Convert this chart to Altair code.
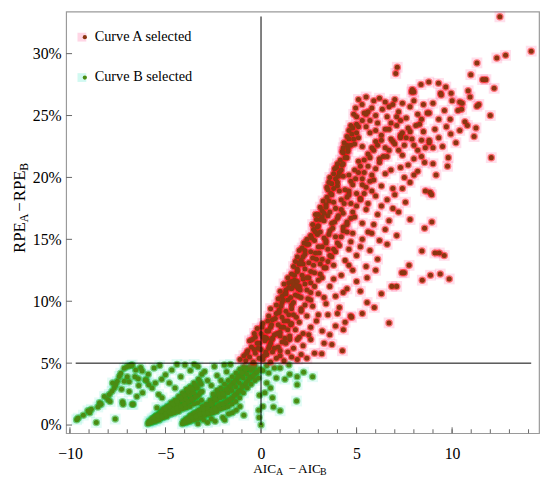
import altair as alt
import pandas as pd

SERIF = "Liberation Serif"

# ---- Curve A selected (x = AIC_A - AIC_B, y = RPE_A - RPE_B in %) ----
A_ORIGIN = [(-1.1,5.3),(-0.9,5.6),(-0.8,5.2),(-0.7,6.0),(-0.6,5.5),(-0.5,6.3),(-0.4,5.1),(-0.3,5.8),(-0.2,6.6),(-0.1,5.4),
            (0.0,6.1),(0.1,5.3),(0.2,6.8),(0.3,5.7),(0.4,6.2),(0.5,5.1),(0.6,5.9),(0.8,5.4),(1.0,5.6),(1.2,5.2),
            (1.4,5.9),(1.6,5.5),(1.9,5.3),(2.1,5.7),(2.4,5.4),(2.8,5.8),(3.18,5.76),(3.71,6.5),(4.26,6.0),
            (-0.6,6.8),(-0.3,7.1),(0.0,7.4),(0.3,7.0),(-0.2,7.8),(0.5,6.6),(0.9,6.3),(1.3,6.6),(1.7,6.2),(2.2,6.4),
            (2.6,6.9),(3.3,6.6),(-0.45,6.9),(-0.15,6.2),(0.15,5.6),(-0.75,5.8),(0.05,7.9),(-0.35,7.4)]
A_LOW = [(0.1,8.2),(0.3,7.6),(0.4,8.8),(0.5,7.9),(0.6,8.5),(0.7,7.3),(0.8,9.0),(0.9,8.1),(1.0,7.5),(1.1,8.7),
         (1.2,7.9),(1.3,9.2),(1.4,8.4),(1.5,7.2),(1.7,8.9),(1.8,7.7),(2.0,8.3),(2.2,7.4),(2.4,8.8),(2.6,7.9),
         (2.9,8.4),(3.2,7.6),(3.5,8.9),(3.9,8.0),(4.31,7.7),(4.69,8.8),(4.74,8.7),(5.3,9.0),(6.7,8.25),(0.5,9.4),
         (0.8,9.7),(1.1,9.9),(1.6,9.7),(2.1,9.4),(2.7,9.6),(3.4,9.8),(4.1,9.5),(0.2,7.1),(0.6,7.0),(1.25,7.0),
         (1.9,6.9),(0.35,8.4),(0.95,9.3),(1.55,8.1)]
A_MID1 = [(0.9,10.2),(1.0,10.8),(1.2,11.4),(1.1,10.4),(1.4,11.9),(1.3,10.9),(1.45,11.5),(1.4,10.1),(1.6,12.2),(1.6,11.0),
          (1.75,11.7),(1.8,10.5),(1.82,11.5),(1.9,12.4),(2.0,11.2),(2.1,10.3),(2.2,11.8),(2.3,12.6),(2.4,10.9),(2.6,11.5),
          (2.8,12.3),(3.0,10.6),(3.2,11.9),(3.4,12.7),(3.6,11.2),(3.9,10.4),(4.2,12.1),(4.5,11.0),(4.8,12.5),(5.2,10.8),
          (5.55,9.9),(5.55,11.9),(5.93,9.5),(6.3,10.6),(6.84,11.2),(7.1,11.2),(7.37,12.3),(7.5,12.3),(8.44,11.7),(8.87,12.1),
          (9.38,12.2),(9.85,11.8),(1.7,12.8),(2.0,13.0),(1.25,10.6),(1.55,10.3),(1.95,11.0),(2.15,12.1),(2.5,11.9),(1.7,11.3)]
A_MID2 = [(1.8,13.2),(2.0,14.1),(1.9,13.6),(2.25,14.7),(2.1,13.3),(2.15,14.3),(2.4,15.0),(2.3,13.8),(2.4,14.6),(2.5,13.1),
          (2.6,15.3),(2.6,14.0),(2.7,13.5),(2.8,14.9),(2.85,13.9),(2.95,15.4),(3.0,14.4),(3.2,13.4),(3.3,15.1),(3.5,14.2),
          (3.7,13.6),(3.9,15.2),(4.1,14.5),(4.4,13.3),(4.7,14.8),(5.0,13.7),(5.3,15.0),(5.7,14.1),(6.1,13.4),(6.6,14.6),
          (7.1,15.3),(7.75,12.9),(8.42,14.06),(9.1,13.9),(9.33,13.9),(9.59,13.7),(5.5,12.8),(6.0,12.5),(3.8,12.9),(2.75,15.8),
          (3.1,15.6),(3.6,15.7),(4.5,15.6),(2.2,13.0),(3.4,14.7)]
A_MID3 = [(2.7,16.2),(2.85,17.0),(2.9,16.6),(3.1,17.6),(2.95,16.0),(3.2,17.3),(3.25,18.1),(3.3,16.5),(3.4,17.8),(3.5,16.9),
          (3.45,18.4),(3.6,17.2),(3.7,16.3),(3.8,18.0),(3.9,17.5),(4.0,16.7),(4.2,18.2),(4.3,17.1),(4.5,16.4),(4.7,17.9),
          (4.9,16.8),(5.2,18.3),(5.5,17.4),(5.9,16.2),(6.3,17.7),(6.9,17.5),(7.56,18.0),(8.56,15.9),(8.94,16.4),(7.8,16.6),
          (6.5,15.8),(5.8,15.5),(3.2,16.8),(3.65,18.7),(4.1,18.9),(3.0,17.0)]
A_HIGH1 = [(3.45,19.2),(3.6,20.0),(3.55,19.6),(3.85,20.7),(3.5,19.0),(3.8,20.3),(4.0,21.1),(3.7,19.5),(3.95,20.8),(3.9,19.9),
           (4.15,21.4),(4.1,20.4),(4.0,19.3),(4.25,21.0),(4.3,20.1),(4.5,21.6),(4.7,19.7),(4.9,20.6),(5.1,21.3),(5.3,19.4),
           (5.6,20.9),(5.9,19.8),(6.2,21.5),(6.5,20.3),(6.9,19.1),(7.3,20.8),(7.8,19.6),(8.2,20.5),(8.6,18.9),(8.93,18.6),
           (8.85,18.8),(9.16,20.2),(9.76,20.9),(5.0,18.7),(6.0,18.5),(7.0,18.6),(4.4,19.0),(4.6,20.2),(5.4,20.4),(8.56,21.2),
           (8.0,20.2),(7.5,20.0)]
A_HIGH2 = [(4.25,22.1),(4.35,22.8),(4.3,22.4),(4.5,23.3),(4.3,22.0),(4.6,23.8),(4.5,22.6),(4.7,24.2),(4.6,23.1),(4.55,22.3),
           (4.8,24.0),(4.75,23.5),(4.9,22.7),(5.0,24.3),(5.1,23.2),(5.3,22.5),(5.5,24.1),(5.7,23.6),(5.9,22.2),(6.1,24.4),
           (6.3,23.0),(6.5,22.4),(6.7,23.9),(6.9,22.9),(7.1,24.2),(7.3,23.4),(7.5,22.6),(7.7,24.0),(7.9,23.1),(8.2,22.2),
           (8.5,23.7),(8.8,22.8),(9.1,23.9),(9.5,22.5),(9.93,23.5),(10.4,23.8),(11.15,23.3),(11.25,24.0),(12.05,21.6),(7.4,21.8),
           (8.0,21.5),(6.6,21.7),(7.4,23.6),(8.8,23.0),(8.6,22.4),(7.6,23.2)]
A_TOP = [(4.85,25.1),(4.95,25.6),(5.1,26.3),(5.0,24.9),(5.29,25.9),(5.4,25.2),(5.5,26.5),(5.8,25.6),(5.9,26.2),(6.0,25.0),
         (6.2,26.4),(6.35,25.5),(6.5,26.1),(6.6,24.9),(6.7,25.7),(7.0,26.3),(7.2,25.3),(7.4,26.0),(7.6,24.8),(7.8,25.7),
         (8.0,26.2),(8.2,25.1),(8.5,25.9),(8.8,25.2),(9.0,26.0),(9.3,24.7),(9.6,25.4),(10.0,26.2),(10.3,25.4),(10.5,25.5),
         (10.67,24.5),(11.3,25.75),(11.4,25.9),(12.0,25.0),(10.4,26.1),(10.53,26.0),(10.84,27.0),(10.94,26.5),(9.4,26.8),(9.43,26.65),
         (9.95,26.8),(7.92,27.1),(8.0,26.9),(7.88,26.9),(8.37,27.5),(8.78,27.7),(9.29,27.6),(9.67,27.3),(5.6,25.3),(6.9,25.9)]
A_CORE = [(-0.35,6.1),(0.25,5.9),(0.7,6.2),(-0.1,6.6),(0.45,6.4),(1.1,6.7),(0.1,7.1),(0.55,6.9),(1.0,7.2),
          (0.4,7.6),(0.85,7.4),(1.4,7.7),(0.55,8.1),(1.05,7.9),(1.6,8.2),(0.75,8.6),(1.2,8.4),(1.85,8.7),
          (0.95,9.1),(1.45,8.9),(2.1,9.2),(1.05,9.6),(1.6,9.4),(2.3,9.7),(1.15,10.1),(1.7,9.9),(2.45,10.2),
          (1.3,10.6),(1.95,10.4),(2.6,10.7),(1.45,11.1),(2.05,10.9),(2.8,11.2),(1.6,11.6),(2.3,11.4),(3.0,11.7),
          (1.75,12.1),(2.4,11.9),(3.1,12.2),(1.9,12.6),(2.6,12.4),(3.3,12.7),(2.05,13.1),(2.75,12.9),(3.5,13.2),
          (2.2,13.6),(2.9,13.4),(3.6,13.7),(2.3,14.1),(3.05,13.9),(3.8,14.2),(2.5,14.6),(3.2,14.4),(4.0,14.7),
          (2.65,15.1),(3.4,14.9),(4.2,15.2),(2.85,15.6),(3.55,15.4),(4.3,15.7),(3.0,16.1),(3.75,15.9),(4.5,16.2),
          (3.1,16.6),(3.85,16.4),(4.7,16.7),(3.3,17.1),(4.05,16.9),(4.8,17.2),(3.4,17.6),(4.2,17.4),(5.0,17.7),
          (3.55,18.1),(4.35,17.9),(5.2,18.2),(3.7,18.6),(4.5,18.4),(5.4,18.7),(3.8,19.1),(4.6,18.9),(5.5,19.2),
          (4.0,19.6),(4.8,19.4),(5.7,19.7),(4.05,20.1),(4.95,19.9),(5.8,20.2),(4.2,20.6),(5.1,20.4),(6.0,20.7),
          (4.3,21.1),(5.2,20.9),(6.2,21.2),(4.4,21.6),(5.4,21.4),(6.4,21.7),(4.55,22.1),(5.6,21.9),(6.7,22.2),
          (4.7,22.6),(5.8,22.4),(7.0,22.7),(4.85,23.1),(6.0,22.9),(7.3,23.2),(5.0,23.6),(6.3,23.4),(7.8,23.7),
          (5.1,24.1),(6.5,23.9),(8.1,24.2),(5.3,24.6),(6.8,24.4),(8.4,24.7),(5.5,25.1),(7.1,24.9),(8.7,25.2),
          (1.75,11.4),(1.9,11.6),(1.85,11.2)]
A_EXTRA = [(1.0,6.0),(1.5,6.9),(2.0,7.1),(2.5,7.3),(3.0,8.9),(3.6,7.3),(4.0,9.0),(4.4,8.3),(2.6,10.1),(3.3,10.3),
           (3.8,11.8),(4.3,10.7),(5.0,11.6),(4.6,12.9),(3.1,13.0),(3.9,14.0),(4.6,14.2),(5.2,14.4),(5.6,15.6),(6.2,14.9),
           (4.3,16.0),(4.8,15.5),(5.3,16.3),(5.6,17.9),(6.1,17.0),(6.7,16.5),(7.2,17.2),(4.6,18.6),(5.3,19.9),(5.8,18.9),
           (6.3,19.3),(6.6,18.2),(7.4,19.1),(6.8,20.6),(7.7,21.0),(5.7,21.6),(6.1,22.6),(6.8,23.1),(7.2,22.2),(8.0,22.6),
           (8.4,23.0),(9.0,22.4),(9.3,23.2),(9.7,24.1),(8.3,24.3),(7.3,24.6),(6.0,23.8),(5.7,24.6),(9.9,24.7),(10.8,24.2),
           (10.2,22.8),(9.8,21.6),(8.4,21.7),(9.0,21.1)]
A_OUTLIERS = [(12.2,27.2),(11.6,27.9),(11.77,27.9),(10.98,28.3),(11.3,29.25),(12.34,29.65),(12.8,29.86),(14.14,30.2),
              (12.5,32.97),(7.13,28.9),(7.05,28.4)]

# ---- Curve B selected ----
B_LEFT = [(-9.65,0.43),(-9.57,0.56),(-9.3,0.8),(-9.06,1.15),(-8.97,1.0),(-8.88,1.27),(-8.62,0.2),(-8.54,1.46),(-8.45,1.8),
          (-8.37,1.67),(-8.02,2.07),(-7.94,2.47),(-7.8,2.73),(-7.77,3.4),(-7.68,3.0),(-7.6,3.26),(-7.52,3.53),(-7.42,3.93),
          (-7.34,4.19),(-7.16,4.59),(-6.99,4.72),(-6.82,4.8),(-6.74,4.85),(-6.56,4.45),(-6.3,4.64),(-6.22,4.37),(-7.63,0.48),
          (-7.25,1.89),(-7.22,1.67),(-6.74,1.67),(-6.69,1.67),(-8.2,2.3),(-7.9,1.9),(-7.0,3.9),(-6.9,3.5),(-6.6,3.9),
          (-6.4,3.2),(-6.2,2.6),(-6.0,3.6),(-5.9,4.1),(-6.9,2.7),(-7.3,2.9),(-6.5,2.3),(-7.16,3.53)]
B_WEDGE1 = [(-5.92,0.1),(-5.86,0.3),(-5.74,0.2),(-5.68,0.4),(-5.71,0.5),(-5.53,0.3),(-5.47,0.5),(-5.52,0.7),(-5.46,0.8),
            (-5.33,0.4),(-5.27,0.6),(-5.31,0.9),(-5.26,1.0),(-5.12,0.6),(-5.08,0.8),(-5.13,1.0),(-5.07,1.2),(-5.11,1.3),
            (-4.93,0.7),(-4.87,1.0),(-4.92,1.2),(-4.88,1.4),(-4.91,1.5),(-4.72,0.9),(-4.68,1.1),(-4.73,1.4),(-4.67,1.6),
            (-4.71,1.8),(-4.53,1.0),(-4.48,1.3),(-4.52,1.5),(-4.47,1.8),(-4.51,2.0),(-4.32,1.1),(-4.28,1.4),(-4.33,1.7),
            (-4.27,2.0),(-4.31,2.3),(-4.12,1.3),(-4.08,1.6),(-4.13,2.0),(-4.07,2.3),(-4.11,2.6),(-3.92,1.4),(-3.88,1.8),
            (-3.93,2.1),(-3.87,2.5),(-3.91,2.9),(-3.72,1.5),(-3.68,2.0),(-3.73,2.4),(-3.67,2.8),(-3.71,3.1),(-3.52,1.7),
            (-3.48,2.2),(-3.53,2.6),(-3.47,3.0),(-3.51,3.4),(-3.32,1.8),(-3.28,2.4),(-3.33,3.0),(-3.27,3.7),(-3.12,2.0),
            (-3.08,2.7),(-3.13,3.3),
            (-5.8,0.25),(-5.6,0.35),(-5.6,0.6),(-5.4,0.5),(-5.4,0.75),(-5.2,0.7),(-5.2,1.1),(-5.0,0.9),(-5.0,1.3),
            (-4.8,1.05),(-4.8,1.5),(-4.6,1.2),(-4.6,1.7),(-4.4,1.35),(-4.4,1.9),(-4.2,1.5),(-4.2,2.2),(-4.0,1.7),
            (-4.0,2.4),(-3.8,1.9),(-3.8,2.7),(-3.6,2.1),(-3.6,2.9),(-3.4,2.3),(-3.4,3.2),(-3.2,2.6),(-3.2,3.5)]
B_WEDGE2 = [(-4.12,0.1),(-4.06,0.3),(-3.92,0.2),(-3.88,0.4),(-3.91,0.5),(-3.72,0.3),(-3.68,0.5),(-3.73,0.7),(-3.67,0.8),
            (-3.52,0.4),(-3.48,0.6),(-3.53,0.9),(-3.47,1.0),(-3.32,0.5),(-3.28,0.8),(-3.33,1.0),(-3.27,1.2),(-3.12,0.6),
            (-3.08,0.9),(-3.13,1.2),(-3.07,1.5),(-2.92,0.8),(-2.88,1.1),(-2.93,1.4),(-2.87,1.7),(-2.72,0.9),(-2.68,1.2),
            (-2.73,1.6),(-2.67,2.0),(-2.52,1.0),(-2.48,1.4),(-2.53,1.8),(-2.47,2.2),(-2.51,2.5),(-2.32,1.1),(-2.28,1.5),
            (-2.33,2.0),(-2.27,2.4),(-2.31,2.8),(-2.12,1.3),(-2.08,1.7),(-2.13,2.2),(-2.07,2.6),(-2.11,3.0),(-1.92,1.4),
            (-1.88,1.8),(-1.93,2.3),(-1.87,2.8),(-1.91,3.3),(-1.72,1.5),(-1.68,2.0),(-1.73,2.6),(-1.67,3.1),(-1.71,3.6),
            (-1.52,1.7),(-1.48,2.2),(-1.53,2.8),(-1.47,3.4),(-1.51,3.9),(-1.32,1.9),(-1.28,2.5),(-1.33,3.1),(-1.27,3.7),
            (-1.31,4.2),(-1.12,2.2),(-1.08,2.8),(-1.13,3.4),(-1.07,4.0),(-1.11,4.5),(-0.92,2.6),(-0.88,3.2),(-0.93,3.8),
            (-0.87,4.3),(-0.91,4.7),(-0.72,3.0),(-0.68,3.6),(-0.73,4.1),(-0.67,4.6),(-0.52,3.3),(-0.48,3.9),(-0.53,4.4),
            (-0.47,4.9),(-0.32,3.6),(-0.28,4.2),(-0.33,4.8),(-0.12,1.2),(-0.08,2.4),(-0.13,3.8),(-0.07,4.5),
            (-4.0,0.25),(-3.8,0.35),(-3.6,0.6),(-3.4,0.7),(-3.2,0.9),(-3.0,1.0),(-3.0,1.3),(-2.8,1.3),(-2.8,1.0),
            (-2.6,1.2),(-2.6,1.7),(-2.4,1.3),(-2.4,2.1),(-2.2,1.6),(-2.2,2.5),(-2.0,1.7),(-2.0,2.5),(-1.8,1.9),
            (-1.8,2.9),(-1.6,2.1),(-1.6,3.2),(-1.4,2.4),(-1.4,3.5),(-1.2,2.7),(-1.2,3.9),(-1.0,3.1),(-1.0,4.2),
            (-0.8,3.4),(-0.8,4.5),(-0.6,3.8),(-0.6,4.6),(-0.4,4.0),(-0.4,4.6),(-0.2,4.3)]
B_SPARSE = [(-5.6,4.6),(-5.3,4.8),(-5.0,4.06),(-4.67,4.45),(-4.4,4.9),(-4.2,3.9),(-3.98,4.85),(-3.7,4.4),(-3.5,4.9),
            (-3.3,4.72),(-3.1,4.1),(-2.95,4.33),(-2.8,3.6),(-2.6,3.2),(-2.44,4.72),(-2.3,4.0),(-2.1,3.6),(-1.92,4.85),
            (-1.8,4.3),(-1.6,4.9),(-5.36,2.47),(-5.18,2.2),(-5.45,1.4),(-5.88,3.26),(-5.7,3.0),(-5.53,3.4),(-6.05,3.66),
            (-6.42,3.74),(-4.8,3.4),(-4.5,3.0),(-5.2,3.7),(-3.0,0.4),(-2.8,0.2),(-2.6,0.5),(-2.0,0.6),(-1.9,0.4),
            (-1.7,0.9),(-1.5,1.0),(-1.3,1.2),(-1.1,1.5),(-0.9,0.8),(-2.4,0.3),(-3.3,0.1)]
B_RIGHT = [(0.0,0.0),(0.1,1.5),(0.2,2.6),(0.3,3.4),(0.4,4.2),(0.5,3.0),(0.65,1.46),(0.7,4.6),(0.8,3.8),(1.0,4.6),
           (1.0,1.15),(1.25,3.7),(1.46,4.85),(1.5,4.1),(1.86,1.94),(1.89,3.9),(1.89,3.26),(2.23,4.27),(2.7,3.9),
           (0.3,4.8),(0.1,4.4),(0.6,2.2),(-0.1,0.6)]

X_MAJOR = [-10, -5, 0, 5, 10]
X_MINOR = [-10, -9, -8, -7, -6, -5, -4, -3, -2, -1, 0, 1, 2, 3, 4, 5, 6, 7, 8, 9, 10, 11, 12, 13, 14]
Y_MAJOR = [0, 5, 10, 15, 20, 25, 30]
X_DOMAIN = [-10.2, 14.55]
Y_DOMAIN = [-0.66, 33.4]
VLINE = {"x": [0.0], "y": [0.0], "y2": [33.0]}
HLINE = {"x": [-9.7], "x2": [14.14], "y": [5.0]}
LEGEND_A = "Curve A selected"
LEGEND_B = "Curve B selected"

W, H = 480, 428

a_df = pd.DataFrame(A_ORIGIN + A_LOW + A_MID1 + A_MID2 + A_MID3 + A_HIGH1 + A_HIGH2 + A_TOP + A_CORE + A_EXTRA
                    + A_OUTLIERS, columns=["x", "y"])
b_df = pd.DataFrame(B_LEFT + B_WEDGE1 + B_WEDGE2 + B_SPARSE + B_RIGHT, columns=["x", "y"])

xs = alt.Scale(domain=X_DOMAIN, nice=False, zero=False)
ys = alt.Scale(domain=Y_DOMAIN, nice=False, zero=False)

x_axis = alt.Axis(values=X_MAJOR, title=None, grid=False, domain=False, ticks=False, tickSize=0,
                  labelPadding=13, labelFont=SERIF, labelFontSize=16, labelColor="black")
y_axis = alt.Axis(values=Y_MAJOR, title=None, grid=False, domain=False, ticks=False, tickSize=0,
                  labelPadding=5, labelFont=SERIF, labelFontSize=16, labelColor="black",
                  labelExpr="datum.value + '%'")
X = alt.X("x:Q", scale=xs, axis=x_axis)
Y = alt.Y("y:Q", scale=ys, axis=y_axis)


def pts(df, halo, halo_op, glow, glow_op, dot):
    base = alt.Chart(df)
    return [
        base.mark_square(size=120, color=halo, opacity=halo_op, strokeWidth=0).encode(x=X, y=Y),
        base.mark_circle(size=58, color=glow, opacity=glow_op, strokeWidth=0).encode(x=X, y=Y),
        base.mark_circle(size=26, color=dot, opacity=1, strokeWidth=0).encode(x=X, y=Y),
    ]


layers = []
layers += pts(b_df, "#00dcb0", 0.11, "#12a812", 0.5, "#4a8c12")
layers += pts(a_df, "#ff1a70", 0.14, "#ff0000", 0.5, "#8a3510")

vline = alt.Chart(pd.DataFrame(VLINE)).mark_rule(color="black", strokeWidth=1).encode(
    x=X, y=Y, y2="y2:Q")
hline = alt.Chart(pd.DataFrame(HLINE)).mark_rule(color="black", strokeWidth=1).encode(
    x=X, x2="x2:Q", y=Y)
layers += [vline, hline]

xminor = alt.Chart(pd.DataFrame({"x": X_MINOR})).mark_rule(color="#666666", strokeWidth=1).encode(
    x=X, y=alt.value(H), y2=alt.value(H - 4))
xmajor = alt.Chart(pd.DataFrame({"x": X_MAJOR})).mark_rule(color="#666666", strokeWidth=1).encode(
    x=X, y=alt.value(H), y2=alt.value(H - 6))
ymajor = alt.Chart(pd.DataFrame({"y": Y_MAJOR})).mark_rule(color="#666666", strokeWidth=1).encode(
    y=Y, x=alt.value(0), x2=alt.value(6))
layers += [xminor, xmajor, ymajor]

one = pd.DataFrame({"k": [0]})


def txt(s, x, y, size, angle=0, baseline="alphabetic", align="left"):
    kw = dict(align=align, baseline=baseline, font=SERIF, fontSize=size, color="black", text=s)
    if angle:
        kw["angle"] = angle
    return alt.Chart(one).mark_text(**kw).encode(x=alt.value(x), y=alt.value(y))


def legend_item(label, y, halo, dot):
    c = alt.Chart(one)
    return [
        c.mark_square(size=80, color=halo, opacity=0.18, strokeWidth=0).encode(x=alt.value(16), y=alt.value(y)),
        c.mark_circle(size=18, color=dot, opacity=1, strokeWidth=0).encode(x=alt.value(19), y=alt.value(y)),
        txt(label, 29, y, 14.5, baseline="middle"),
    ]


layers += legend_item(LEGEND_A, 26, "#ff1a70", "#8a3510")
layers += legend_item(LEGEND_B, 67, "#00dcb0", "#4a8c12")

# axis titles with subscripts (each piece centred on its place)
layers += [
    txt("AIC", 201.5, 468, 13.5, align="center"),
    txt("A", 216.5, 470.5, 10, align="center"),
    txt("\u2212", 229.5, 468, 13.5, align="center"),
    txt("AIC", 247, 468, 13.5, align="center"),
    txt("B", 261, 470.5, 10, align="center"),
    txt("RPE", -42, 229.5, 17, 270, align="center"),
    txt("A", -39, 209.5, 12, 270, align="center"),
    txt("\u2212", -42, 198.5, 17, 270, align="center"),
    txt("RPE", -42, 177, 17, 270, align="center"),
    txt("B", -39, 157.5, 12, 270, align="center"),
]

chart = alt.layer(*layers).properties(
    width=W, height=H,
    autosize=alt.AutoSizeParams(type="none"),
    padding={"left": 59, "top": 0, "right": 3, "bottom": 51},
).configure_view(stroke="#9a9a9a", strokeWidth=1.2)

chart.save("out.html", embed_options={"renderer": "svg", "actions": False})
